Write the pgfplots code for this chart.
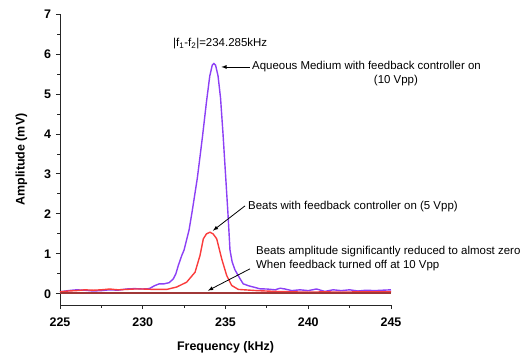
\documentclass[border=0pt]{standalone}
\usepackage{fontspec}
\setmainfont{Liberation Sans}
\usepackage{pgfplots}
\pgfplotsset{compat=1.18}
\definecolor{purp}{RGB}{140,64,245}
\definecolor{redl}{RGB}{250,60,60}
\definecolor{flat}{RGB}{160,55,55}
\begin{document}
\begin{tikzpicture}
\useasboundingbox (-60bp,-55bp) rectangle (469bp,305bp);
\begin{axis}[
  at={(0,0)}, anchor=south west,
  scale only axis, width=331bp, height=291bp,
  xmin=225, xmax=245, ymin=-0.28, ymax=7,
  axis lines=left, axis line style={-, line width=0.9bp, black!85},
  xtick={225,230,235,240,245}, ytick={0,1,2,3,4,5,6,7},
  minor x tick num=1, minor y tick num=1,
  tick align=outside, major tick length=4bp, minor tick length=2.5bp,
  tick style={line width=0.8bp, black!85},
  /pgf/number format/assume math mode=true,
  tick label style={font=\fontsize{12.5}{14}\selectfont\bfseries},
  xticklabel style={/pgf/number format/1000 sep={}, yshift=-5bp},
  yticklabel style={xshift=-1.5bp},
  xlabel={Frequency (kHz)}, ylabel={Amplitude (mV)},
  label style={font=\fontsize{12.5}{14}\selectfont\bfseries},
  xlabel style={yshift=-8bp},
  ylabel style={yshift=10bp},
  clip=false,
]
\addplot[purp, line width=1.4bp] coordinates {
(225,0.05) (225.5,0.08) (226,0.1) (226.5,0.09) (227,0.07) (227.5,0.08) (228,0.1) (228.5,0.09)
(229,0.12) (229.5,0.13) (230,0.12) (230.4,0.13) (230.7,0.2) (231,0.25) (231.3,0.25) (231.6,0.28)
(231.85,0.375) (232.0,0.5) (232.15,0.71) (232.35,0.95) (232.5,1.1) (232.8,1.6) (233.0,2.1)
(233.3,2.9) (233.6,3.9) (233.85,4.8) (234.05,5.45) (234.2,5.72) (234.3,5.76) (234.4,5.72)
(234.55,5.45) (234.7,4.9) (234.85,4.0) (235.0,3.0) (235.15,2.0) (235.27,1.1) (235.4,0.8)
(235.57,0.6) (235.88,0.375) (236.07,0.25) (236.4,0.2) (236.68,0.17) (237.08,0.125) (237.5,0.12)
(238,0.1) (238.3,0.14) (238.6,0.12) (239,0.08) (239.5,0.1) (240,0.08) (240.5,0.12) (241,0.06)
(241.5,0.1) (242,0.08) (242.5,0.1) (243,0.07) (243.5,0.09) (244,0.08) (244.5,0.09) (245,0.1)
};
\addplot[redl, line width=1.4bp] coordinates {
(225,0.05) (225.5,0.07) (226,0.08) (226.5,0.1) (227,0.09) (227.5,0.1) (228,0.12) (228.5,0.1)
(229,0.11) (229.5,0.12) (230,0.12) (230.64,0.11) (231.45,0.11) (232.05,0.17) (232.65,0.29)
(233.16,0.54) (233.46,0.96) (233.66,1.375) (233.85,1.5) (234.06,1.54) (234.25,1.5) (234.47,1.375)
(234.77,0.875) (235.07,0.46) (235.37,0.21) (235.77,0.11) (236.88,0.08) (238,0.06) (239,0.05)
(240,0.04) (241,0.05) (242,0.04) (243,0.05) (244,0.05) (245,0.05)
};
\addplot[flat, line width=1.2bp] coordinates {
(225,0.02) (230,0.02) (235,0.02) (240,0.02) (245,0.02)
};
\node[anchor=west, font=\fontsize{11.5}{13}\selectfont, inner sep=0pt] at (axis cs:231.83,6.25) {\textbar f\textsubscript{1}-f\textsubscript{2}\textbar=234.285kHz};
\node[anchor=west, font=\fontsize{11.5}{13}\selectfont, inner sep=0pt] at (axis cs:236.6,5.675) {Aqueous Medium with feedback controller on};
\node[font=\fontsize{11.5}{13}\selectfont, inner sep=0pt] at (axis cs:245.3,5.325) {(10 Vpp)};
\draw[-latex, line width=0.8bp] (axis cs:236.48,5.675) -- (axis cs:234.75,5.675);
\node[anchor=west, font=\fontsize{11.5}{13}\selectfont, inner sep=0pt] at (axis cs:236.36,2.175) {Beats with feedback controller on (5 Vpp)};
\draw[-latex, line width=0.8bp] (axis cs:236.18,2.2) -- (axis cs:234.24,1.58);
\node[anchor=west, font=\fontsize{11.5}{13}\selectfont, inner sep=0pt] at (axis cs:236.84,1.05) {Beats amplitude significantly reduced to almost zero};
\node[anchor=west, font=\fontsize{11.5}{13}\selectfont, inner sep=0pt] at (axis cs:236.84,0.7) {When feedback turned off at 10 Vpp};
\draw[-latex, line width=0.8bp] (axis cs:236.48,0.625) -- (axis cs:233.94,0.08);
\end{axis}
\end{tikzpicture}
\end{document}
